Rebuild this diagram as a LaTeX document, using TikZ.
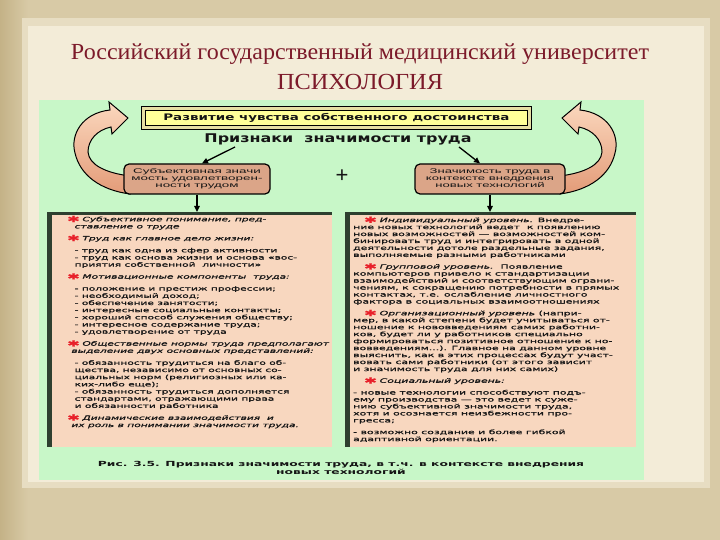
\documentclass[tikz,border=0pt]{standalone}
\usepackage{fontspec}
\usepackage{graphicx}
\usetikzlibrary{arrows.meta,calc}
\setmainfont{DejaVu Sans}
\newfontfamily\serifT{Liberation Serif}
\newfontfamily\pf[FakeBold=0.8]{DejaVu Sans}
\newfontfamily\boxf{Liberation Sans}
\definecolor{bgbeige}{HTML}{D8CAA6}
\definecolor{bgdark}{HTML}{C4B287}
\definecolor{cream}{HTML}{F3ECD8}
\definecolor{mint}{HTML}{C8F7C8}
\definecolor{peach}{HTML}{F8D7BF}
\definecolor{panelline}{HTML}{2E3F2F}
\definecolor{tanbox}{HTML}{DBA588}
\definecolor{titlered}{HTML}{7C1A2A}
\definecolor{yel}{HTML}{FFFF99}
\definecolor{yelframe}{HTML}{E6DFA4}
\definecolor{arrlight}{HTML}{FBD8BE}
\definecolor{arrdark}{HTML}{E39B78}
\definecolor{starred}{HTML}{E8202A}
\definecolor{ink}{HTML}{151515}
\newcommand{\redstar}{\smash{\raisebox{-0.8pt}{\fontsize{8.5}{8}\selectfont\color{starred}✱}}\hspace{1.5pt}}
\newcommand{\ggap}{\\[4.8pt]}
\begin{document}
\begin{tikzpicture}[x=1pt,y=-1pt,
  arr/.style={-{Triangle[length=6pt,width=5.5pt]}, line width=1.3pt, black},
  sbox/.style={draw=black, line width=1.2pt, fill=tanbox, rounded corners=5pt, inner sep=0, text=ink},
  panel/.style={fill=peach, inner sep=0},
  curvy/.style={draw=black, line width=1pt, top color=arrlight, bottom color=arrdark},
  txt/.style={inner sep=0, text=ink}]
\useasboundingbox (0,0) rectangle (720,540);
% background
\fill[bgbeige] (0,0) rectangle (720,540);
\shade[left color=bgdark, right color=bgbeige] (0,0) rectangle (28,540);
\fill[cream!55!bgbeige] (22,18) rectangle (710,488);
\fill[cream] (28,26) rectangle (704,482);
% title
\node[inner sep=0, text=titlered] (title) at (360,54) {\resizebox{578pt}{\height}{\serifT\fontsize{23}{23}\selectfont Российский государственный медицинский университет}};
\node[inner sep=0, text=titlered] (psy) at (360,82) {\resizebox{166pt}{\height}{\serifT\fontsize{23}{23}\selectfont ПСИХОЛОГИЯ}};
% green field
\fill[mint] (39,100) rectangle (644,480);
% curved arrows (drawn before the boxes)
\path[curvy] (110,110) .. controls (82,113) and (70,135) .. (75,153) .. controls (80,175) and (100,190) .. (130,194) -- (130,176) .. controls (106,173) and (89,165) .. (88,152) .. controls (88,140) and (97,130) .. (111,127) -- (112,134) -- (128,118) -- (109,102) -- cycle;
\begin{scope}[xshift=690pt, xscale=-1]
\path[curvy] (110,110) .. controls (82,113) and (70,135) .. (75,153) .. controls (80,175) and (100,190) .. (130,194) -- (130,176) .. controls (106,173) and (89,165) .. (88,152) .. controls (88,140) and (97,130) .. (111,127) -- (112,134) -- (128,118) -- (109,102) -- cycle;
\end{scope}
% yellow box
\node[draw=black, line width=0.8pt, fill=yelframe, minimum width=390pt, minimum height=23pt, anchor=north west, inner sep=0] (ybox) at (141,106) {};
\draw[fill=yel, line width=0.8pt] ([shift={(4,4)}]ybox.north west) rectangle ([shift={(-4,-4)}]ybox.south east);
\node[txt] (ytext) at (ybox.center) {\resizebox{346pt}{\height}{\fontsize{9}{9}\selectfont\bfseries Развитие чувства собственного достоинства}};
% heading
\node[txt] (prizn) at (338,139) {\resizebox{267pt}{\height}{\fontsize{12}{12}\selectfont\bfseries Признаки\ \ значимости труда}};
% small boxes
\node[sbox, minimum width=146pt, minimum height=30pt] (lbox) at (197,179) {\resizebox*{131pt}{22pt}{\boxf\fontsize{8}{8.6}\selectfont\begin{tabular}{@{}c@{}}Субъективная значи\\мость удовлетворен-\\ности трудом\end{tabular}}};
\node[sbox, minimum width=150pt, minimum height=30pt] (rbox) at (490,179) {\resizebox*{128pt}{22pt}{\boxf\fontsize{8}{8.6}\selectfont\begin{tabular}{@{}c@{}}Значимость труда в\\контексте внедрения\\новых технологий\end{tabular}}};
\node[txt] (plus) at (342,176) {\boxf\fontsize{22}{22}\selectfont +};
% panels
\node[panel, minimum width=285pt, minimum height=235pt, anchor=north west] (lpanel) at (47,212) {};
\node[panel, minimum width=291pt, minimum height=235pt, anchor=north west] (rpanel) at (345,212) {};
\fill[panelline] (lpanel.north west) rectangle ($(lpanel.north east)+(0,3)$);
\fill[panelline] (lpanel.north west) rectangle ($(lpanel.south west)+(5,0)$);
\fill[panelline] (rpanel.north west) rectangle ($(rpanel.north east)+(0,3)$);
\fill[panelline] (rpanel.north west) rectangle ($(rpanel.south west)+(5,0)$);
% connectors
\coordinate (pl) at (235,147);
\coordinate (pr) at (459,147);
\draw[arr] (pl) -- ([xshift=5pt]lbox.north);
\draw[arr] (pr) -- ([xshift=-10pt]rbox.north);
\draw[arr] (lbox.south) -- (lbox.south |- lpanel.north);
\draw[arr] (rbox.south) -- (rbox.south |- rpanel.north);
% left text
\node[txt, anchor=north west] (ltext) at (67,216) {\resizebox*{262pt}{213pt}{\pf\fontsize{6}{7.2}\selectfont\begin{tabular}{@{}l@{}}
\redstar\textit{Субъективное понимание, пред-}\\
\hspace{0.7em}\textit{ставление о труде}\ggap
\redstar\textit{Труд как главное дело жизни:}\ggap
\hspace{0.7em}- труд как одна из сфер активности\\
\hspace{0.7em}- труд как основа жизни и основа «вос-\\
\hspace{0.7em}приятия собственной\ \ личности»\ggap
\redstar\textit{Мотивационные компоненты\ \ труда:}\ggap
\hspace{0.7em}- положение и престиж профессии;\\
\hspace{0.7em}- необходимый доход;\\
\hspace{0.7em}- обеспечение занятости;\\
\hspace{0.7em}- интересные социальные контакты;\\
\hspace{0.7em}- хороший способ служения обществу;\\
\hspace{0.7em}- интересное содержание труда;\\
\hspace{0.7em}- удовлетворение от труда\ggap
\redstar\textit{Общественные нормы труда предполагают}\\
\hspace{0.4em}\textit{выделение двух основных представлений:}\ggap
\hspace{0.7em}- обязанность трудиться на благо об-\\
\hspace{0.7em}щества, независимо от основных со-\\
\hspace{0.7em}циальных норм (религиозных или ка-\\
\hspace{0.7em}ких-либо еще);\\
\hspace{0.7em}- обязанность трудиться дополняется\\
\hspace{0.7em}стандартами, отражающими права\\
\hspace{0.7em}и обязанности работника\ggap
\redstar\textit{Динамические взаимодействия\ \ и}\\
\hspace{0.4em}\textit{их роль в понимании значимости труда.}
\end{tabular}}};
% right text
\node[txt, anchor=north west] (rtext) at (353,217) {\resizebox*{266pt}{226pt}{\pf\fontsize{6}{7}\selectfont\begin{tabular}{@{}l@{}}
\hspace{1em}\redstar\textit{Индивидуальный уровень.} Внедре-\\
ние новых технологий ведет\ \ к появлению\\
новых возможностей — возможностей ком-\\
бинировать труд и интегрировать в одной\\
деятельности дотоле раздельные задания,\\
выполняемые разными работниками\ggap
\hspace{1em}\redstar\textit{Групповой уровень.}\ \ Появление\\
компьютеров привело к стандартизации\\
взаимодействий и соответствующим ограни-\\
чениям, к сокращению потребности в прямых\\
контактах, т.е. ослабление личностного\\
фактора в социальных взаимоотношениях\ggap
\hspace{1em}\redstar\textit{Организационный уровень} (напри-\\
мер, в какой степени будет учитываться от-\\
ношение к нововведениям самих работни-\\
ков, будет ли у работников специально\\
формироваться позитивное отношение к но-\\
вовведениям...). Главное на данном уровне\\
выяснить, как в этих процессах будут участ-\\
вовать сами работники (от этого зависит\\
и значимость труда для них самих)\ggap
\hspace{1em}\redstar\textit{Социальный уровень:}\ggap
- новые технологии способствуют подъ-\\
ему производства — это ведет к суже-\\
нию субъективной значимости труда,\\
хотя и осознается неизбежности про-\\
гресса;\ggap
- возможно создание и более гибкой\\
адаптивной ориентации.
\end{tabular}}};
% caption
\node[txt] (cap) at (341,469) {\resizebox{486pt}{\height}{\fontsize{7}{8}\selectfont\bfseries\begin{tabular}{@{}c@{}}Рис. 3.5. Признаки значимости труда, в т.ч. в контексте внедрения\\новых технологий\end{tabular}}};
\end{tikzpicture}
\end{document}
